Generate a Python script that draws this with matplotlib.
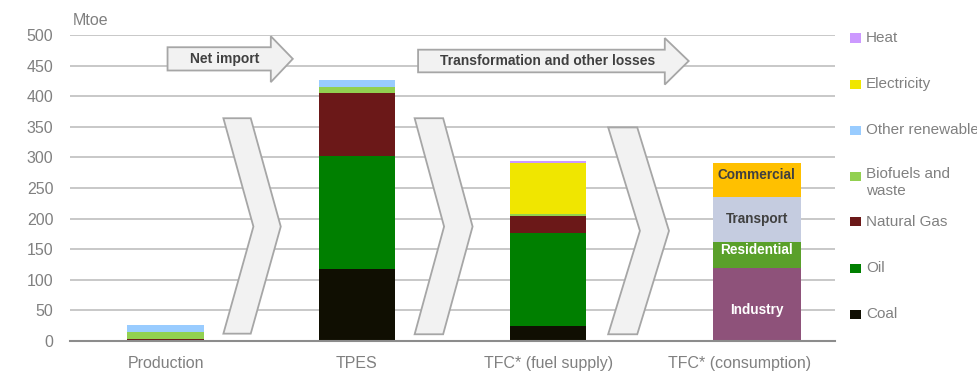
import matplotlib
matplotlib.use('Agg')
import matplotlib.pyplot as plt
from matplotlib.patches import Polygon, Rectangle
import numpy as np

# Energy balance, Mtoe
categories = ['Production', 'TPES', 'TFC* (fuel supply)', 'TFC* (consumption)']

fuels = ['Coal', 'Oil', 'Natural Gas', 'Biofuels and\nwaste', 'Other renewable', 'Electricity', 'Heat']
fuel_colors = ['#100f02', '#007f00', '#6b1818', '#92d050', '#99ccff', '#f0e600', '#cc99ff']
# columns: Production, TPES, TFC (fuel supply)
coal = [1.0, 117, 24]
oil = [0, 185, 153]
natural_gas = [1.5, 102.5, 28]
biofuels = [11.5, 11, 2]
other_renewable = [11.5, 11.5, 0]
electricity = [0, 0, 84]
heat = [0, 0, 3]
fuel_values = [coal, oil, natural_gas, biofuels, other_renewable, electricity, heat]

sectors = ['Industry', 'Residential', 'Transport', 'Commercial']
sector_values = [120, 42, 73.5, 56]
sector_colors = ['#8e527a', '#5aa02a', '#c5cce0', '#ffc000']
sector_text = ['white', 'white', '#404040', '#404040']
label_shift = [-10, 8, 0, 8]   # nudge labels off the segment centre

GRAY = '#808080'
plt.rcParams['font.family'] = ['Liberation Sans', 'DejaVu Sans']

fig = plt.figure(figsize=(9.78, 3.73), dpi=100)
ax = fig.add_axes([70 / 978, 1 - 341 / 373, 765 / 978, 306 / 373])
ax.set_xlim(-0.5, 3.5)
ax.set_ylim(0, 500)

# supply side stacks
x = np.arange(3)
bottom = np.zeros(3)
for vals, col in zip(fuel_values, fuel_colors):
    ax.bar(x, vals, 0.4, bottom=bottom, color=col, zorder=3)
    bottom += np.array(vals)

# final consumption by sector
cb = 0
for name, val, col, tc, dy in zip(sectors, sector_values, sector_colors, sector_text, label_shift):
    ax.bar(3.09, val, 0.46, bottom=cb, color=col, zorder=3)
    ax.text(3.09, cb + val / 2 + dy, name, ha='center', va='center', color=tc,
            fontsize=9.8, fontweight='bold', zorder=4)
    cb += val

# flow arrows
def block_arrow(x0, x1, xt, yb0, yb1, yh0, yh1, label):
    ym = (yb0 + yb1) / 2
    pts = [(x0, yb0), (x1, yb0), (x1, yh0), (xt, ym), (x1, yh1), (x1, yb1), (x0, yb1)]
    ax.add_patch(Polygon(pts, closed=True, facecolor='#f2f2f2', edgecolor='#a6a6a6',
                         linewidth=1.3, zorder=4, clip_on=False))
    ax.text((x0 + x1) / 2 + 0.03, ym, label, ha='center', va='center', color='#404040',
            fontsize=10, fontweight='bold', zorder=5)

block_arrow(0.01, 0.55, 0.665, 442, 480, 423, 498, 'Net import')
block_arrow(1.32, 2.61, 2.735, 439, 476, 419, 495, 'Transformation and other losses')

def chevron(xl, xr, dx, ytop, ymid, ybot):
    pts = [(xl, ytop), (xr, ytop), (xr + dx, ymid), (xr, ybot), (xl, ybot), (xl + dx, ymid)]
    ax.add_patch(Polygon(pts, closed=True, facecolor='#f2f2f2', edgecolor='#a6a6a6',
                         linewidth=1.3, zorder=4))

chevron(0.302, 0.445, 0.157, 364, 187, 12)
chevron(1.302, 1.451, 0.154, 364, 187, 11)
chevron(2.314, 2.466, 0.166, 349, 180, 11)

# axes styling
ax.set_yticks(np.arange(0, 501, 50))
ax.grid(axis='y', color='#c8c8c8', linewidth=1.4, zorder=0)
ax.set_axisbelow(True)
for s in ['top', 'right', 'left']:
    ax.spines[s].set_visible(False)
ax.spines['bottom'].set_color('#8c8c8c')
ax.spines['bottom'].set_linewidth(1.5)
ax.spines['bottom'].set_zorder(5)
ax.set_xticks(np.arange(4))
ax.set_xticklabels(categories)
ax.tick_params(axis='both', length=0, labelsize=11.5, colors=GRAY)
ax.tick_params(axis='x', pad=11)
ax.tick_params(axis='y', pad=12)
ax.text(0.003, 1.048, 'Mtoe', transform=ax.transAxes, fontsize=11.5, color=GRAY,
        ha='left', va='center')

# legend, top entry first
legend_top = 38
step = 46
for i, (name, col) in enumerate(zip(fuels[::-1], fuel_colors[::-1])):
    py = legend_top + i * step
    fig.patches.append(Rectangle((850 / 978, 1 - (py + 4.5) / 373), 11 / 978, 9 / 373,
                                 transform=fig.transFigure, facecolor=col, edgecolor='none'))
    if '\n' in name:
        fig.text(866 / 978, 1 - (py - 9) / 373, name, ha='left', va='top', fontsize=11,
                 color=GRAY, linespacing=1.3)
    else:
        fig.text(866 / 978, 1 - py / 373, name, ha='left', va='center', fontsize=11,
                 color=GRAY)

fig.savefig('out.png', dpi=100)
